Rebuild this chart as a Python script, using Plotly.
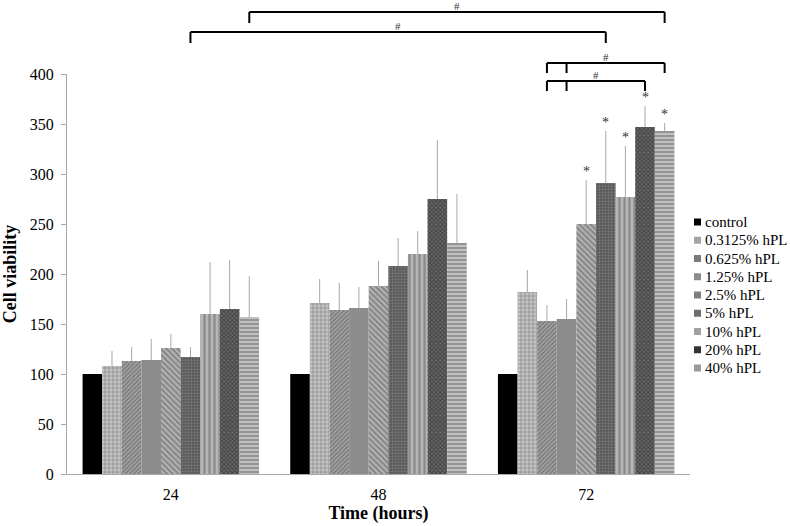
import plotly.graph_objects as go

# ---------------- data ----------------
time_labels = ["24", "48", "72"]
series_names = ["control", "0.3125% hPL", "0.625% hPL", "1.25% hPL", "2.5% hPL",
                "5% hPL", "10% hPL", "20% hPL", "40% hPL"]

# mean cell viability per series at 24, 48, 72 h
control = [100, 100, 100]
hpl_0_3125 = [108, 171, 182]
hpl_0_625 = [113, 164, 153]
hpl_1_25 = [114, 166, 155]
hpl_2_5 = [126, 188, 250]
hpl_5 = [117, 208, 291]
hpl_10 = [160, 220, 277]
hpl_20 = [165, 275, 347]
hpl_40 = [157, 231, 343]

# upper error (SD)
err_control = [0, 0, 0]
err_0_3125 = [15, 24, 22]
err_0_625 = [14, 27, 16]
err_1_25 = [21, 21, 20]
err_2_5 = [14, 25, 44]
err_5 = [10, 28, 52]
err_10 = [52, 23, 51]
err_20 = [49, 59, 21]
err_40 = [41, 49, 8]

values = [control, hpl_0_3125, hpl_0_625, hpl_1_25, hpl_2_5, hpl_5, hpl_10, hpl_20, hpl_40]
errors = [err_control, err_0_3125, err_0_625, err_1_25, err_2_5, err_5, err_10, err_20, err_40]

# significance: '*' on 72 h bars (series indices)
star_series_72h = [4, 5, 6, 7, 8]
y_ticks = [0, 50, 100, 150, 200, 250, 300, 350, 400]

# ---------------- styles ----------------
FONT = "Liberation Serif"
styles = [
    dict(color="#000000", swatch="#000000", pattern=None),
    dict(color="#a8a8a8", swatch="#a4a4a4", pattern=dict(shape="+", fgcolor="#6e6e6e", bgcolor="#c4c4c4", size=4, solidity=0.45)),
    dict(color="#7a7a7a", swatch="#7a7a7a", pattern=dict(shape="/", fgcolor="#4a4a4a", bgcolor="#a6a6a6", size=3, solidity=0.5)),
    dict(color="#8c8c8c", swatch="#8c8c8c", pattern=None),
    dict(color="#8a8a8a", swatch="#7e7e7e", pattern=dict(shape="\\", fgcolor="#4e4e4e", bgcolor="#b2b2b2", size=4, solidity=0.45)),
    dict(color="#6e6e6e", swatch="#6e6e6e", pattern=dict(shape=".", fgcolor="#9a9a9a", bgcolor="#555555", size=3, solidity=0.45)),
    dict(color="#909090", swatch="#a0a0a0", pattern=dict(shape="|", fgcolor="#5e5e5e", bgcolor="#b6b6b6", size=5, solidity=0.45)),
    dict(color="#333333", swatch="#333333", pattern=dict(shape="x", fgcolor="#151515", bgcolor="#6a6a6a", size=3, solidity=0.5)),
    dict(color="#909090", swatch="#999999", pattern=dict(shape="-", fgcolor="#5e5e5e", bgcolor="#c0c0c0", size=4, solidity=0.45)),
]

BARGAP = 0.15
N = len(series_names)
x_idx = list(range(len(time_labels)))

W, H = 790, 526
ML, MR, MT, MB = 67, 100, 0, 52
PW, PH = W - ML - MR, H - MT - MB

fig = go.Figure()
for k, name in enumerate(series_names):
    st = styles[k]
    marker = dict(color=st["color"], line=dict(width=0))
    if st["pattern"] is not None:
        marker["pattern"] = st["pattern"]
    fig.add_trace(go.Bar(
        name=name, x=x_idx, y=values[k], marker=marker, showlegend=False,
        error_y=dict(type="data", symmetric=False, array=errors[k],
                     arrayminus=[0] * len(x_idx), color="#a8a8a8",
                     thickness=1, width=0),
    ))

def bar_x(group, series):
    w = (1 - BARGAP) / N
    return group - (1 - BARGAP) / 2 + w * (series + 0.5)

# y positions above the axis top expressed in value units (1 unit = 1 px here)
YTOP = float(PH)
def py(v):
    return v / YTOP

shapes = []
annotations = []

def bracket(x0, x1, yv, drop, extra_ticks=()):
    shapes.append(dict(type="line", xref="x", yref="paper", x0=x0, x1=x1,
                       y0=py(yv), y1=py(yv), line=dict(color="black", width=2)))
    for xx in [x0, x1] + list(extra_ticks):
        shapes.append(dict(type="line", xref="x", yref="paper", x0=xx, x1=xx,
                           y0=py(yv), y1=py(yv - drop), line=dict(color="black", width=2)))
    lx = (x0 + x1) / 2
    annotations.append(dict(text="#", xref="x", yref="paper", x=lx, y=py(yv + 6),
                            yanchor="middle", showarrow=False,
                            font=dict(family=FONT, size=11, color="#333333")))

# 24h 40% vs 72h 40%
bracket(bar_x(0, 8), bar_x(2, 8), 462, 11)
# 24h 5% vs 72h 5%
bracket(bar_x(0, 5), bar_x(2, 5), 442, 11)
# 72h 0.625/1.25 vs 40%
bracket(bar_x(2, 2), bar_x(2, 8), 411, 10, extra_ticks=[bar_x(2, 3)])
# 72h 0.625/1.25 vs 20%
bracket(bar_x(2, 2), bar_x(2, 7), 393, 10, extra_ticks=[bar_x(2, 3)])

for s in star_series_72h:
    annotations.append(dict(text="*", xref="x", yref="y", x=bar_x(2, s),
                            y=values[s][2] + errors[s][2], yanchor="bottom",
                            showarrow=False, yshift=-1,
                            font=dict(family=FONT, size=14, color="#333333")))

# custom legend (compact spacing as in the original)
LEG_X, LEG_Y0, LEG_DY, SW = 694, 222, 18.25, 7
for k, name in enumerate(series_names):
    cy = LEG_Y0 + k * LEG_DY
    shapes.append(dict(type="rect", xref="paper", yref="paper",
                       x0=(LEG_X - ML) / PW, x1=(LEG_X + SW - ML) / PW,
                       y0=(H - MB - (cy + SW / 2)) / PH, y1=(H - MB - (cy - SW / 2)) / PH,
                       fillcolor=styles[k]["swatch"], line=dict(width=0)))
    annotations.append(dict(text=name, xref="paper", yref="paper",
                            x=(LEG_X + SW + 2 - ML) / PW, y=(H - MB - cy) / PH,
                            xanchor="left", yanchor="middle", showarrow=False,
                            font=dict(family=FONT, size=15, color="black")))

fig.update_layout(
    width=W, height=H,
    margin=dict(l=ML, r=MR, t=MT, b=MB, autoexpand=False),
    paper_bgcolor="white", plot_bgcolor="white",
    barmode="group", bargap=BARGAP, bargroupgap=0,
    font=dict(family=FONT, size=16, color="black"),
    shapes=shapes, annotations=annotations,
    showlegend=False,
    xaxis=dict(range=[-0.5, 2.5], tickvals=x_idx, ticktext=time_labels, ticks="",
               showline=True, linecolor="#a8a8a8", linewidth=1, showgrid=False,
               zeroline=False, tickfont=dict(family=FONT, size=16),
               ticklabelstandoff=6, automargin=False,
               title=dict(text="<b>Time (hours)</b>", standoff=4,
                          font=dict(family=FONT, size=18))),
    yaxis=dict(range=[0, 400], domain=[0, 400 / YTOP], tickvals=y_ticks,
               ticks="outside", ticklen=5, tickcolor="#a8a8a8",
               showline=True, linecolor="#a8a8a8", linewidth=1, showgrid=False,
               zeroline=False, tickfont=dict(family=FONT, size=16),
               ticklabelstandoff=4, automargin=False,
               title=dict(text="<b>Cell viability</b>", standoff=10,
                          font=dict(family=FONT, size=18))),
)

fig.write_html("out.html", config={"displayModeBar": False},
               post_script="document.body.style.margin='0';")
